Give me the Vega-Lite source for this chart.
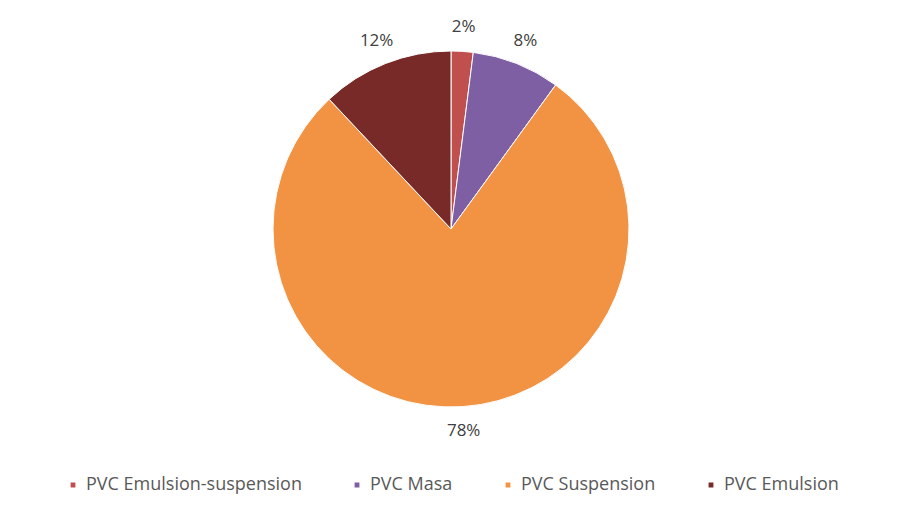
{
  "$schema": "https://vega.github.io/schema/vega-lite/v6.json",
  "width": 902,
  "height": 512,
  "autosize": {"type": "fit", "contains": "padding"},
  "padding": {"top": 10, "bottom": 18, "left": 10, "right": 10},
  "background": "white",
  "data": {
    "values": [
      {"type": "PVC Emulsion-suspension", "share": 0.02, "k": 1},
      {"type": "PVC Masa", "share": 0.08, "k": 2},
      {"type": "PVC Suspension", "share": 0.78, "k": 3},
      {"type": "PVC Emulsion", "share": 0.12, "k": 4}
    ]
  },
  "encoding": {
    "theta": {"field": "share", "type": "quantitative", "stack": true},
    "order": {"field": "k", "type": "quantitative"}
  },
  "layer": [
    {
      "mark": {"type": "arc", "outerRadius": 178, "stroke": "white", "strokeWidth": 1},
      "encoding": {
        "color": {
          "field": "type",
          "type": "nominal",
          "sort": null,
          "scale": {
            "domain": ["PVC Emulsion-suspension", "PVC Masa", "PVC Suspension", "PVC Emulsion"],
            "range": ["#C0504D", "#7F5FA3", "#F19343", "#772A28"]
          },
          "legend": {
            "title": null,
            "orient": "bottom",
            "direction": "horizontal",
            "symbolType": "square",
            "symbolSize": 40,
            "labelFontSize": 18,
            "labelFont": "Open Sans",
            "labelColor": "#595959",
            "labelLimit": 400,
            "columnPadding": 46,
            "offset": 28
          }
        }
      }
    },
    {
      "mark": {"type": "text", "radius": 202, "fontSize": 17, "font": "Open Sans", "color": "#404040"},
      "encoding": {
        "text": {"field": "share", "type": "quantitative", "format": ".0%"}
      }
    }
  ],
  "config": {
    "view": {"stroke": null},
    "legend": {"layout": {"bottom": {"anchor": "middle"}}}
  }
}
